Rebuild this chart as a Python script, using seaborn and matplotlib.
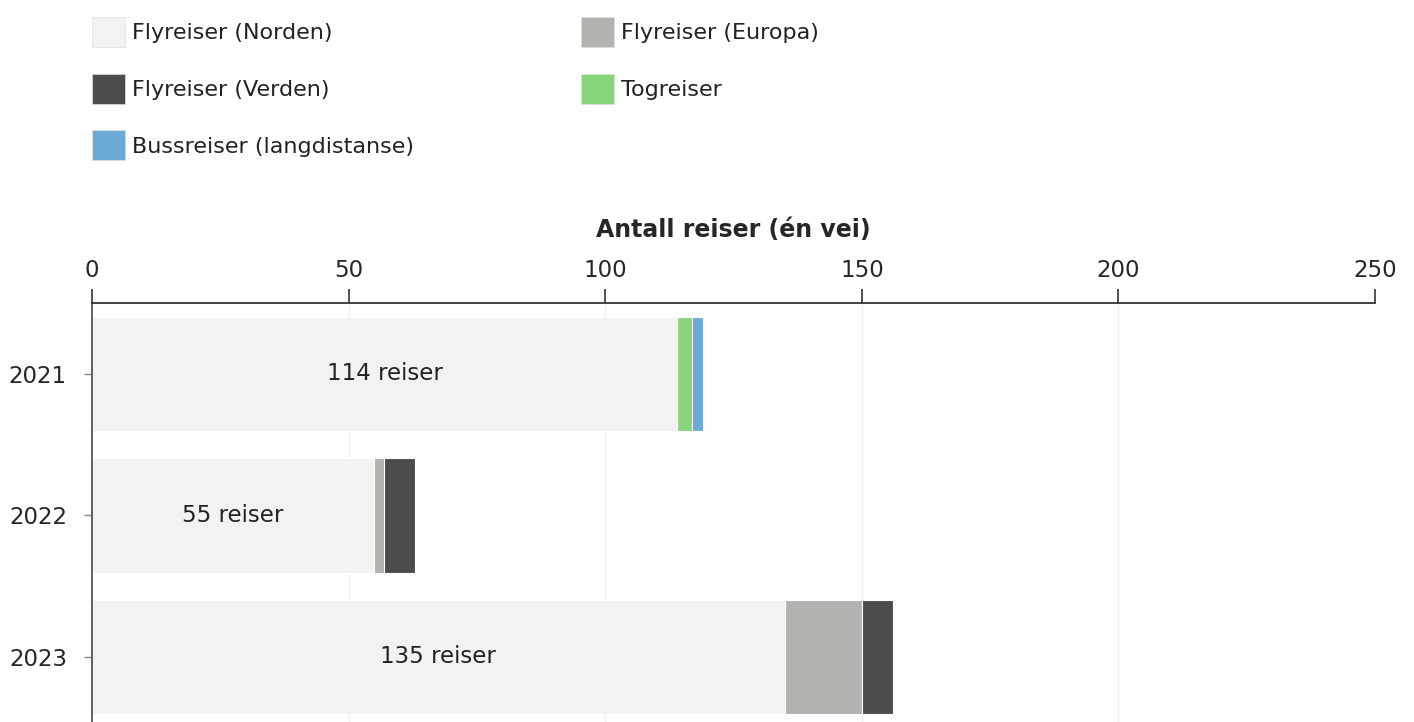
import numpy as np
import pandas as pd
import seaborn as sns
import matplotlib.pyplot as plt
from matplotlib.patches import Patch

# Reiser per år, lest av figuren
years = ['2021', '2022', '2023']
series = ['Flyreiser (Norden)', 'Flyreiser (Europa)', 'Flyreiser (Verden)',
          'Togreiser', 'Bussreiser (langdistanse)']
norden = [114, 55, 135]
europa = [0, 2, 15]
verden = [0, 6, 6]
tog = [3, 0, 0]
buss = [2, 0, 0]
bar_labels = ['114 reiser', '55 reiser', '135 reiser']
x_ticks = [0, 50, 100, 150, 200, 250]

colors = {
    'Flyreiser (Norden)': '#f2f3f1',
    'Flyreiser (Europa)': '#b1b3af',
    'Flyreiser (Verden)': '#4b4d4b',
    'Togreiser': '#88d47c',
    'Bussreiser (langdistanse)': '#6baad6',
}

df = pd.DataFrame({'year': years, 'Flyreiser (Norden)': norden,
                   'Flyreiser (Europa)': europa, 'Flyreiser (Verden)': verden,
                   'Togreiser': tog, 'Bussreiser (langdistanse)': buss})

sns.set_theme(style='white')
plt.rcParams['font.family'] = ['DejaVu Sans']
plt.rcParams['text.color'] = '#222222'

fig = plt.figure(figsize=(14.14, 7.22), dpi=100)
ax = fig.add_axes([0.065, 0.0, 0.9075, 0.58])

# stacked bars: draw the cumulative sums from the longest to the shortest
cum = df[series].cumsum(axis=1)
for s in reversed(series):
    sns.barplot(x=cum[s], y=df['year'], orient='h', color=colors[s],
                saturation=1, width=0.81, ax=ax, edgecolor='white', linewidth=0.8)

# label the Norden segment (last container drawn)
ax.bar_label(ax.containers[-1], labels=bar_labels, label_type='center',
             fontsize=16.5, color='#222222')

ax.set_xlim(0, 250)
ax.set_ylim(2.46, -0.50)
ax.set_xticks(x_ticks)
ax.xaxis.tick_top()
ax.xaxis.set_label_position('top')
ax.set_xlabel('Antall reiser (én vei)', fontsize=17, fontweight='bold', labelpad=16)
ax.set_ylabel('')
ax.tick_params(axis='x', direction='out', length=10, width=1.2, color='#333333',
               labelsize=16.5, pad=5, top=True, bottom=False)
ax.tick_params(axis='y', direction='out', length=6, width=1, color='#888888',
               labelsize=16.5, pad=12, left=True)
for v in x_ticks[1:-1]:
    ax.axvline(v, color='#f0f0f0', lw=1, zorder=0)
ax.set_axisbelow(True)

for side in ['right', 'bottom']:
    ax.spines[side].set_visible(False)
ax.spines['top'].set_color('#333333')
ax.spines['top'].set_linewidth(1.3)
ax.spines['left'].set_color('#555555')
ax.spines['left'].set_linewidth(1.3)

order = ['Flyreiser (Norden)', 'Flyreiser (Verden)', 'Bussreiser (langdistanse)',
         'Flyreiser (Europa)', 'Togreiser']
handles = [Patch(facecolor=colors[s], edgecolor='#dddddd', linewidth=0.5, label=s) for s in order]
fig.legend(handles=handles, loc='upper left', bbox_to_anchor=(0.051, 1.004), ncol=2,
           frameon=False, fontsize=16, handlelength=1.5, handleheight=1.7,
           handletextpad=0.3, labelspacing=1.2, columnspacing=7.5)

fig.savefig('out.png', dpi=100)
